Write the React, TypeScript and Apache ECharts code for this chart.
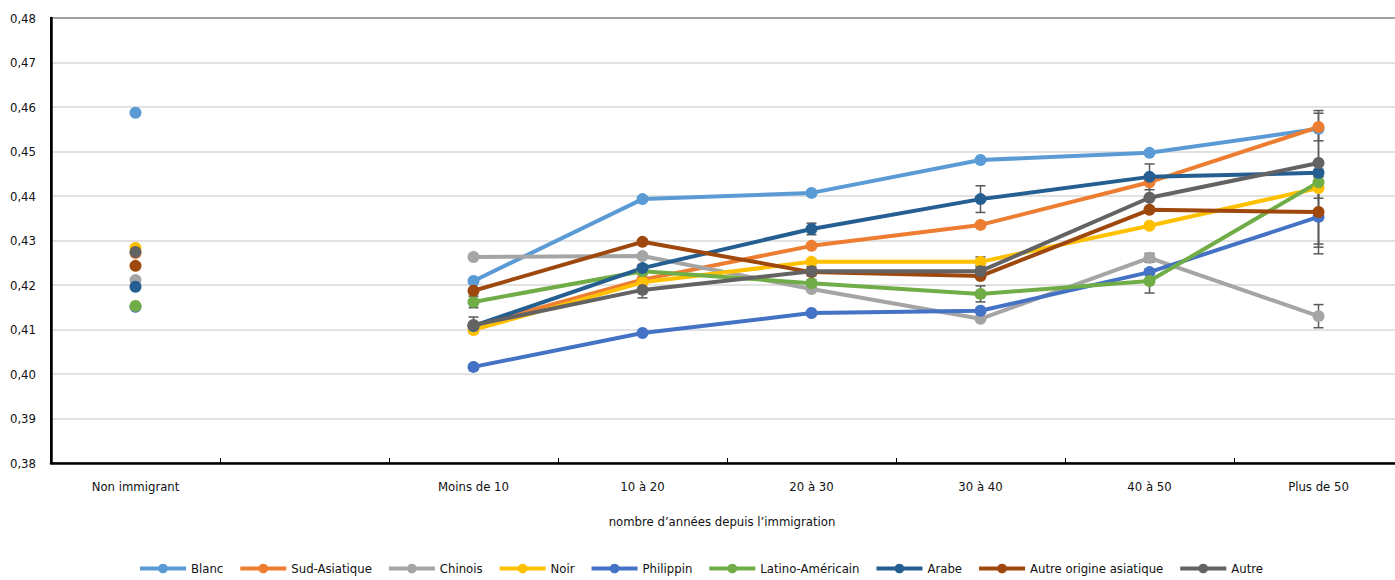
import React, { useEffect, useRef } from "react";
import * as echarts from "echarts";

const categories = ["Non immigrant", "", "Moins de 10", "10 à 20", "20 à 30", "30 à 40", "40 à 50", "Plus de 50"];
const yTicks = { min: 0.38, max: 0.48, interval: 0.01 };

const seriesNames = ["Blanc", "Sud-Asiatique", "Chinois", "Noir", "Philippin", "Latino-Américain", "Arabe", "Autre origine asiatique", "Autre"];
const seriesColors = ["#5B9BD5", "#ED7D31", "#A5A5A5", "#FFC000", "#4472C4", "#70AD47", "#255E91", "#9E480E", "#636363"];

const blanc = [0.4587, null, 0.4209, 0.4393, 0.4407, 0.4481, 0.4497, 0.4551];
const sudAsiatique = [0.4272, null, 0.4108, 0.4212, 0.4288, 0.4335, 0.4431, 0.4555];
const chinois = [0.4211, null, 0.4263, 0.4265, 0.4191, 0.4124, 0.4261, 0.413];
const noir = [0.4283, null, 0.4099, 0.4206, 0.4252, 0.4252, 0.4333, 0.4418];
const philippin = [0.4151, null, 0.4016, 0.4092, 0.4137, 0.4142, 0.4229, 0.4353];
const latino = [0.4153, null, 0.4162, 0.4231, 0.4204, 0.418, 0.4209, 0.4431];
const arabe = [0.4196, null, 0.4108, 0.4238, 0.4326, 0.4393, 0.4443, 0.4452];
const autreAsiatique = [0.4243, null, 0.4187, 0.4297, 0.4229, 0.422, 0.4369, 0.4364];
const autre = [0.4274, null, 0.411, 0.4189, 0.4231, 0.4231, 0.4396, 0.4474];

// error bar half-widths (0 = none)
const errBlanc = [0, 0, 0, 0, 0, 0, 0, 0];
const errSudAsiatique = [0, 0, 0, 0, 0, 0, 0, 0.0031];
const errChinois = [0, 0, 0, 0, 0, 0, 0.001, 0.0026];
const errNoir = [0, 0, 0, 0, 0, 0.0011, 0, 0];
const errPhilippin = [0, 0, 0, 0, 0, 0, 0, 0.0061];
const errLatino = [0, 0, 0.0013, 0.0008, 0.0008, 0.0018, 0.0027, 0.0161];
const errArabe = [0, 0, 0.0008, 0.0008, 0.0013, 0.003, 0.0029, 0.0008];
const errAutreAsiatique = [0, 0, 0, 0, 0, 0, 0, 0.0079];
const errAutre = [0, 0, 0.0018, 0.0018, 0.001, 0.0012, 0.003, 0.0079];

const seriesValues = [blanc, sudAsiatique, chinois, noir, philippin, latino, arabe, autreAsiatique, autre];
const seriesErrors = [errBlanc, errSudAsiatique, errChinois, errNoir, errPhilippin, errLatino, errArabe, errAutreAsiatique, errAutre];

const axisTitle = "nombre d’années depuis l’immigration";
const FONT = "'Liberation Sans Narrow', 'DejaVu Sans Condensed', 'Liberation Sans', sans-serif";
const FS = 13;
const TXT = "#111";

export default function App() {
  const ref = useRef<HTMLDivElement>(null);
  useEffect(() => {
    if (!ref.current) return;
    const chart = echarts.init(ref.current, null, { renderer: "svg" });

    const errData: any[] = [];
    seriesValues.forEach((vals, si) => {
      vals.forEach((v, i) => {
        const e = seriesErrors[si][i];
        if (v != null && e > 0) errData.push([i, v, e]);
      });
    });

    const lineSeries = seriesNames.map((name, si) => ({
      name,
      type: "line",
      data: seriesValues[si],
      connectNulls: false,
      symbol: "circle",
      symbolSize: 12,
      showSymbol: true,
      z: 3,
      itemStyle: { color: seriesColors[si] },
      lineStyle: { color: seriesColors[si], width: 4 },
    }));

    const errorSeries = {
      type: "custom",
      name: "err",
      z: 2,
      data: errData,
      encode: { x: 0, y: 1 },
      renderItem: (params: any, api: any) => {
        const x = api.value(0);
        const v = api.value(1);
        const e = api.value(2);
        const top = api.coord([x, v + e]);
        const bot = api.coord([x, v - e]);
        const hw = 5;
        const st = { stroke: "#595959", lineWidth: 1.5 };
        return {
          type: "group",
          children: [
            { type: "line", shape: { x1: top[0], y1: top[1], x2: bot[0], y2: bot[1] }, style: st },
            { type: "line", shape: { x1: top[0] - hw, y1: top[1], x2: top[0] + hw, y2: top[1] }, style: st },
            { type: "line", shape: { x1: bot[0] - hw, y1: bot[1], x2: bot[0] + hw, y2: bot[1] }, style: st },
          ],
        };
      },
    };

    chart.setOption({
      animation: false,
      textStyle: { fontFamily: FONT },
      grid: {
        left: 51,
        right: 0,
        top: 18,
        bottom: 117,
        show: true,
        borderColor: "#000",
        borderWidth: 2,
      },
      xAxis: {
        type: "category",
        data: categories,
        boundaryGap: true,
        axisLine: { lineStyle: { color: "#000", width: 2.5 } },
        axisTick: { show: true, inside: true, length: 5, lineStyle: { color: "#000", width: 1 } },
        axisLabel: { color: TXT, fontSize: FS, margin: 17, fontFamily: FONT, interval: 0 },
        splitLine: { show: false },
      },
      yAxis: {
        type: "value",
        min: yTicks.min,
        max: yTicks.max,
        interval: yTicks.interval,
        axisLine: { show: true, lineStyle: { color: "#000", width: 2.5 } },
        axisTick: { show: false },
        axisLabel: {
          color: TXT,
          fontSize: FS,
          margin: 15,
          fontFamily: FONT,
          formatter: (v: number) => v.toFixed(2).replace(".", ","),
        },
        splitLine: { lineStyle: { color: "#d9d9d9", width: 1.5 } },
      },
      legend: {
        data: seriesNames,
        left: 133,
        top: 557,
        itemWidth: 46,
        itemHeight: 12,
        itemGap: 15,
        lineStyle: { width: 4 },
        textStyle: { color: TXT, fontSize: FS, fontFamily: FONT },
      },
      graphic: [
        {
          type: "text",
          x: 722,
          y: 521,
          style: {
            text: axisTitle,
            fill: TXT,
            font: `${FS}px ${FONT}`,
            textAlign: "center",
            textVerticalAlign: "middle",
          },
        },
      ],
      series: [errorSeries, ...lineSeries],
    });
    return () => chart.dispose();
  }, []);
  return <div ref={ref} style={{ position: "fixed", left: 0, top: 0, width: 1403, height: 580, background: "#fff" }} />;
}
